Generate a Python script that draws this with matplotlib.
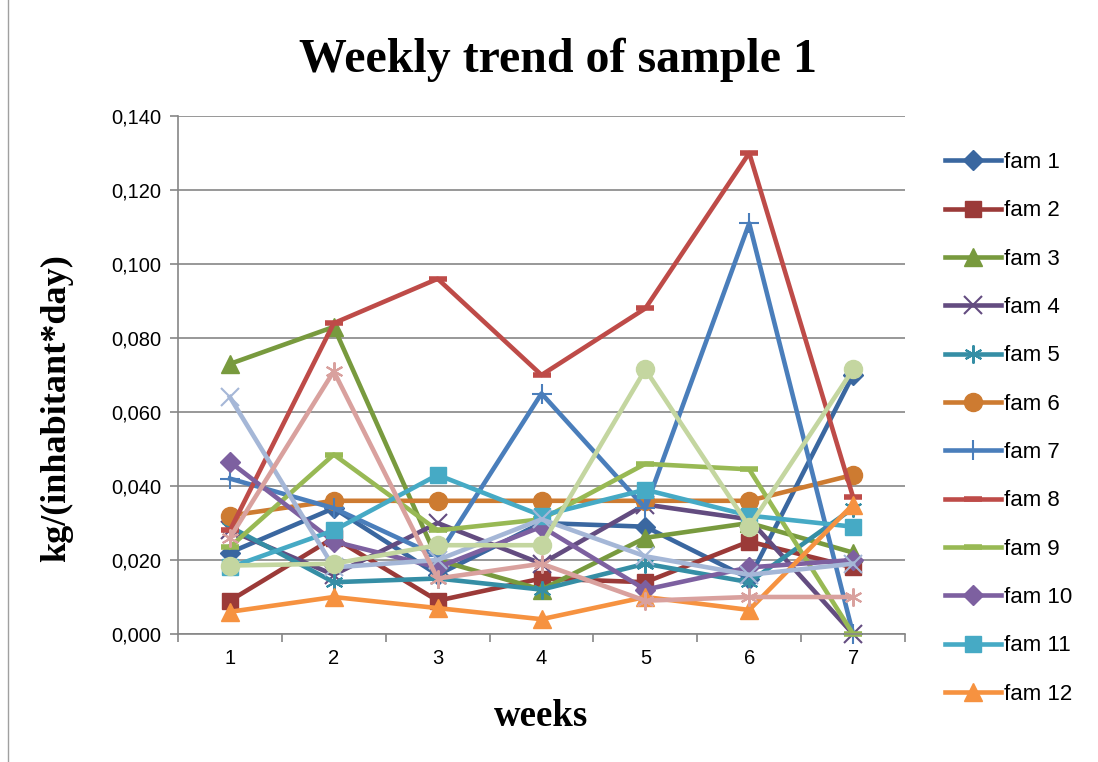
import matplotlib
matplotlib.use('Agg')
import matplotlib.pyplot as plt
from matplotlib.lines import Line2D
from matplotlib.ticker import FuncFormatter

# weekly waste per family, kg/(inhabitant*day)
weeks = [1, 2, 3, 4, 5, 6, 7]
fam1 = [0.022, 0.034, 0.016, 0.030, 0.029, 0.015, 0.070]
fam2 = [0.009, 0.026, 0.009, 0.015, 0.014, 0.025, 0.018]
fam3 = [0.073, 0.083, 0.020, 0.012, 0.026, 0.030, 0.022]
fam4 = [0.028, 0.016, 0.030, 0.019, 0.035, 0.031, 0.000]
fam5 = [0.029, 0.014, 0.015, 0.012, 0.019, 0.014, 0.034]
fam6 = [0.032, 0.036, 0.036, 0.036, 0.036, 0.036, 0.043]
fam7 = [0.042, 0.034, 0.021, 0.065, 0.034, 0.111, 0.000]
fam8 = [0.028, 0.084, 0.096, 0.070, 0.088, 0.130, 0.037]
fam9 = [0.0235, 0.0485, 0.028, 0.031, 0.046, 0.0445, 0.000]
fam10 = [0.0465, 0.025, 0.018, 0.029, 0.012, 0.018, 0.020]
fam11 = [0.018, 0.028, 0.043, 0.032, 0.039, 0.032, 0.029]
fam12 = [0.006, 0.010, 0.007, 0.004, 0.010, 0.0065, 0.035]
fam13 = [0.064, 0.018, 0.020, 0.031, 0.021, 0.016, 0.019]
fam14 = [0.026, 0.071, 0.015, 0.019, 0.009, 0.010, 0.010]
fam15 = [0.0185, 0.019, 0.024, 0.024, 0.0715, 0.029, 0.0715]

series = [fam1, fam2, fam3, fam4, fam5, fam6, fam7, fam8,
          fam9, fam10, fam11, fam12, fam13, fam14, fam15]
labels = ['fam %d' % (i + 1) for i in range(len(series))]

colors = ['#3A67A0', '#9B3A38', '#789A3E', '#634C80', '#358EA5', '#CD7B31',
          '#4A7EBB', '#BE4B48', '#98B954', '#7D60A0', '#46AAC5', '#F69240',
          '#A5B7D7', '#D9A19E', '#C4D6A0']
ast = (6, 2, 0)
markers = ['D', 's', '^', 'x', ast, 'o', '+', '_', '_', 'D', 's', '^', 'x', ast, 'o']
msizes = [10.5, 12, 13, 13, 13, 13, 15, 13, 13, 10.5, 12, 13, 13, 13, 13]
thin = {'x', '+', ast}

fig = plt.figure(figsize=(10.98, 7.62), dpi=100)
ax = fig.add_axes([178 / 1098, 1 - 634 / 762, 727 / 1098, 518 / 762])

handles = []
for vals, lab, c, m, ms in zip(series, labels, colors, markers, msizes):
    mew = 1.5 if m in thin else (4 if m == '_' else 1)
    ln, = ax.plot(weeks, vals, color=c, lw=3.3, marker=m, ms=ms,
                  mfc=c, mec=c, mew=mew, label=lab, clip_on=False)
    handles.append(ln)

ax.set_xlim(0.5, 7.5)
ax.set_ylim(0, 0.14)
ax.set_yticks([0.02 * i for i in range(8)])
ax.yaxis.set_major_formatter(FuncFormatter(lambda v, p: ('%.3f' % v).replace('.', ',')))
ax.set_xticks(weeks)
ax.set_xticks([i + 0.5 for i in range(8)], minor=True)
ax.tick_params(axis='x', which='major', length=0, pad=11, labelsize=14.5)
ax.tick_params(axis='x', which='minor', length=6, width=1.2, color='#868686')
ax.tick_params(axis='y', length=6, width=1.2, color='#868686', labelsize=14.5, pad=6)
for lab in ax.get_xticklabels() + ax.get_yticklabels():
    lab.set_fontfamily('Liberation Sans')

ax.grid(axis='y', color='#868686', lw=1.2)
ax.set_axisbelow(True)
for s in ['top', 'right']:
    ax.spines[s].set_visible(False)
for s in ['left', 'bottom']:
    ax.spines[s].set_color('#868686')
    ax.spines[s].set_linewidth(1.2)

serif = 'Liberation Serif'
fig.text(558 / 1098, 1 - 60 / 762, 'Weekly trend of sample 1', ha='center', va='center',
         fontsize=34.5, fontweight='bold', family=serif)
fig.text(541 / 1098, 1 - 716 / 762, 'weeks', ha='center', va='center',
         fontsize=26.5, fontweight='bold', family=serif)
fig.text(57 / 1098, 1 - 408 / 762, 'kg/(inhabitant*day)', ha='center', va='center',
         rotation=90, fontsize=26, fontweight='bold', family=serif)

fig.legend(handles[:12], labels[:12], loc='upper left',
           bbox_to_anchor=(945 / 1098, 1 - 152 / 762), frameon=False,
           borderpad=0, borderaxespad=0, handlelength=2.5, handletextpad=0.15,
           labelspacing=1.23, prop={'family': 'Liberation Sans', 'size': 16})

# chart frame
fig.add_artist(Line2D([8 / 1098, 8 / 1098], [0, 1], color='#A0A0A0', lw=1))

fig.savefig('out.png', dpi=100)
